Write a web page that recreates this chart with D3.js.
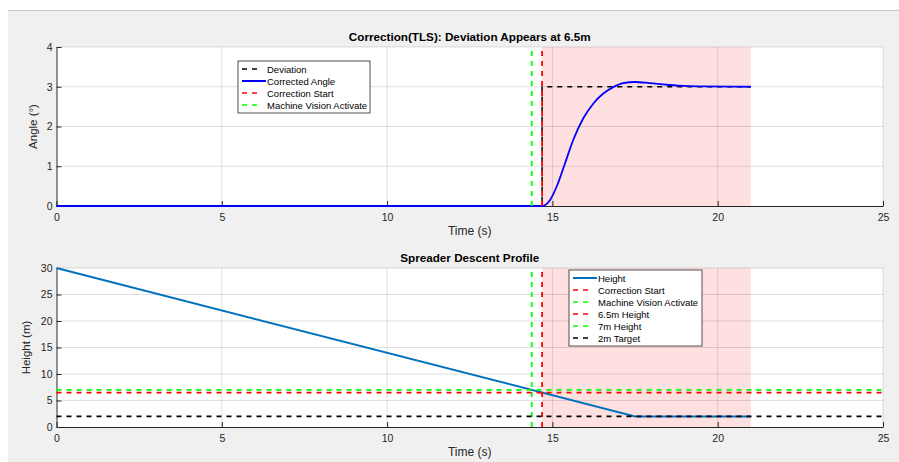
<!DOCTYPE html>
<html>
<head>
<meta charset="utf-8">
<script src="https://cdn.jsdelivr.net/npm/d3@7"></script>
<style>
body { margin: 0; background: #fff; }
svg { display: block; font-family: "Liberation Sans", Arial, sans-serif; }
</style>
</head>
<body>
<svg id="chart" width="899" height="462"></svg>
<script>
// Data
var timeTicks = [0, 5, 10, 15, 20, 25];
var angleTicks = [0, 1, 2, 3, 4];
var heightTicks = [0, 5, 10, 15, 20, 25, 30];

var visionTime = 14.375;      // machine vision activate (7m)
var correctionTime = 14.6875; // correction start (6.5m)
var shadeEnd = 21;

var deviationTime = [0, 14.6875, 14.6875, 21];
var deviationAngle = [0, 0, 3, 3];

var correctedTime = [0, 14.69, 14.93, 15.13, 15.38, 15.63, 15.93, 16.24, 16.54, 16.84, 17.14, 17.5, 17.95, 18.46, 18.96, 19.57, 21];
var correctedAngle = [0, 0, 0.15, 0.49, 1.07, 1.66, 2.2, 2.58, 2.83, 2.99, 3.09, 3.12, 3.09, 3.05, 3.02, 3.01, 3.0];

var heightTime = [0, 17.5, 21];
var heightValue = [30, 2, 2];

var refLevels = [6.5, 7, 2];
var refColors = ["#ff0000", "#00ff00", "#000000"];

var topLegend = [
    {label: "Deviation", color: "#000", dash: true},
    {label: "Corrected Angle", color: "#0000ff", dash: false},
    {label: "Correction Start", color: "#ff0000", dash: true},
    {label: "Machine Vision Activate", color: "#00ff00", dash: true}
];
var bottomLegend = [
    {label: "Height", color: "#0072bd", dash: false},
    {label: "Correction Start", color: "#ff0000", dash: true},
    {label: "Machine Vision Activate", color: "#00ff00", dash: true},
    {label: "6.5m Height", color: "#ff0000", dash: true},
    {label: "7m Height", color: "#00ff00", dash: true},
    {label: "2m Target", color: "#000", dash: true}
];

var svg = d3.select("#chart");

// figure background
svg.append("rect").attr("width", 899).attr("height", 462).attr("fill", "#fff");
svg.append("rect").attr("x", 8).attr("y", 10).attr("width", 891).attr("height", 452).attr("fill", "#f0f0f0");
svg.append("line").attr("x1", 8).attr("x2", 899).attr("y1", 10.5).attr("y2", 10.5).attr("stroke", "#c8c8c8");

var x = d3.scaleLinear().domain([0, 25]).range([56.5, 883]);

function drawAxes(g, y, yTicks, title, ylabel, top, bottom, ylabelX) {
    g.append("rect").attr("x", x(0)).attr("y", top).attr("width", x(25) - x(0)).attr("height", bottom - top).attr("fill", "#fff");
    // shaded correction window
    g.append("rect")
        .attr("x", x(correctionTime)).attr("y", top)
        .attr("width", x(shadeEnd) - x(correctionTime)).attr("height", bottom - top)
        .attr("fill", "#ffe0e0");
    // grid
    g.selectAll(".vg").data(timeTicks.slice(1)).enter().append("line")
        .attr("x1", d => x(d)).attr("x2", d => x(d)).attr("y1", top).attr("y2", bottom)
        .attr("stroke", "#000").attr("stroke-opacity", 0.12);
    g.selectAll(".hg").data(yTicks.slice(1)).enter().append("line")
        .attr("x1", x(0)).attr("x2", x(25)).attr("y1", d => y(d)).attr("y2", d => y(d))
        .attr("stroke", "#000").attr("stroke-opacity", 0.12);

    g.append("text").attr("x", (x(0) + x(25)) / 2).attr("y", top - 6)
        .attr("text-anchor", "middle").attr("font-size", 11.7).attr("font-weight", "bold").attr("fill", "#000")
        .text(title);
    g.append("text").attr("transform", "translate(" + ylabelX + "," + ((top + bottom) / 2) + ") rotate(-90)")
        .attr("text-anchor", "middle").attr("font-size", 11.5).attr("fill", "#262626").text(ylabel);
    g.append("text").attr("x", (x(0) + x(25)) / 2).attr("y", bottom + 29)
        .attr("text-anchor", "middle").attr("font-size", 12).attr("fill", "#262626").text("Time (s)");

    var xa = g.append("g").attr("transform", "translate(0," + bottom + ")")
        .call(d3.axisBottom(x).tickValues(timeTicks).tickFormat(d3.format("d")).tickSizeInner(-5).tickSizeOuter(0).tickPadding(8));
    var ya = g.append("g").attr("transform", "translate(" + x(0) + ",0)")
        .call(d3.axisLeft(y).tickValues(yTicks).tickFormat(d3.format("d")).tickSizeInner(-5).tickSizeOuter(0).tickPadding(4));
    [xa, ya].forEach(function(a) {
        a.select(".domain").attr("stroke", "#262626");
        a.selectAll(".tick line").attr("stroke", "#262626");
        a.selectAll(".tick text").attr("fill", "#262626").attr("font-size", 10.5)
            .attr("font-family", "Liberation Sans, Arial, sans-serif");
    });
}

function drawLegend(g, items, lx, ly, w, rowH) {
    var h = items.length * rowH + 4;
    g.append("rect").attr("x", lx).attr("y", ly).attr("width", w).attr("height", h)
        .attr("fill", "#fff").attr("stroke", "#262626").attr("stroke-width", 0.8);
    items.forEach(function(d, i) {
        var cy = ly + 2 + rowH * (i + 0.5);
        g.append("line").attr("x1", lx + 4).attr("x2", d.dash ? lx + 23 : lx + 28).attr("y1", cy).attr("y2", cy)
            .attr("stroke", d.color).attr("stroke-width", d.dash ? 1.5 : 2)
            .attr("stroke-dasharray", d.dash ? "5,5" : null);
        g.append("text").attr("x", lx + 29).attr("y", cy + 3.5)
            .attr("font-size", 9.5).attr("fill", "#000").text(d.label);
    });
}

// ---------- top panel: angle ----------
var topY = d3.scaleLinear().domain([0, 4]).range([206, 47]);
var g1 = svg.append("g");
drawAxes(g1, topY, angleTicks, "Correction(TLS): Deviation Appears at 6.5m", "Angle (°)", 47, 206, 37);

var line1 = d3.line().x(d => x(d[0])).y(d => topY(d[1]));
g1.append("path").datum(d3.zip(deviationTime, deviationAngle)).attr("d", line1)
    .attr("fill", "none").attr("stroke", "#000").attr("stroke-width", 1.5).attr("stroke-dasharray", "5,5");
g1.append("path").datum(d3.zip(correctedTime, correctedAngle)).attr("d", line1.curve(d3.curveMonotoneX))
    .attr("fill", "none").attr("stroke", "#0000ff").attr("stroke-width", 1.8);
g1.append("line").attr("x1", x(correctionTime)).attr("x2", x(correctionTime)).attr("y1", topY(0)).attr("y2", topY(4))
    .attr("stroke", "#ff0000").attr("stroke-width", 1.8).attr("stroke-dasharray", "5,5");
g1.append("line").attr("x1", x(visionTime)).attr("x2", x(visionTime)).attr("y1", topY(0)).attr("y2", topY(4))
    .attr("stroke", "#00ff00").attr("stroke-width", 1.8).attr("stroke-dasharray", "5,5");
drawLegend(g1, topLegend, 238, 61, 132, 12);

// ---------- bottom panel: height ----------
var botY = d3.scaleLinear().domain([0, 30]).range([427, 268]);
var g2 = svg.append("g");
drawAxes(g2, botY, heightTicks, "Spreader Descent Profile", "Height (m)", 268, 427, 30);

var line2 = d3.line().x(d => x(d[0])).y(d => botY(d[1]));
g2.append("path").datum(d3.zip(heightTime, heightValue)).attr("d", line2)
    .attr("fill", "none").attr("stroke", "#0072bd").attr("stroke-width", 2);
g2.append("line").attr("x1", x(correctionTime)).attr("x2", x(correctionTime)).attr("y1", botY(0)).attr("y2", botY(30))
    .attr("stroke", "#ff0000").attr("stroke-width", 1.8).attr("stroke-dasharray", "5,5");
g2.append("line").attr("x1", x(visionTime)).attr("x2", x(visionTime)).attr("y1", botY(0)).attr("y2", botY(30))
    .attr("stroke", "#00ff00").attr("stroke-width", 1.8).attr("stroke-dasharray", "5,5");
refLevels.forEach(function(v, i) {
    g2.append("line").attr("x1", x(0)).attr("x2", x(25)).attr("y1", botY(v)).attr("y2", botY(v))
        .attr("stroke", refColors[i]).attr("stroke-width", 1.8).attr("stroke-dasharray", "5,5");
});
drawLegend(g2, bottomLegend, 569, 270, 133, 12);
</script>
</body>
</html>
